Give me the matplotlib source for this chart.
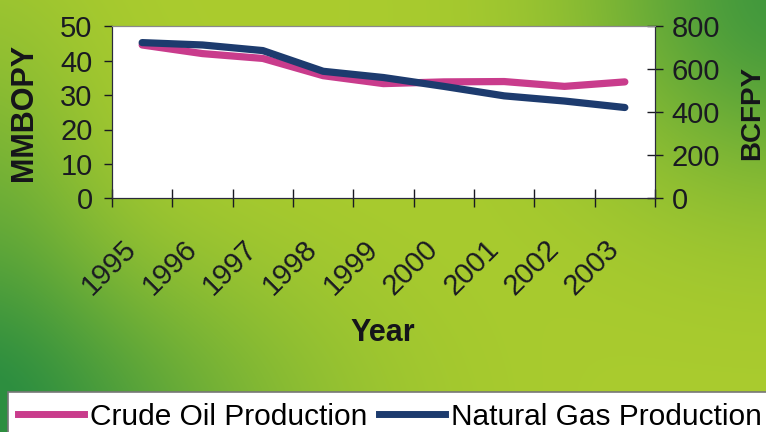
import numpy as np
import matplotlib
matplotlib.use("Agg")
import matplotlib.pyplot as plt
import matplotlib.transforms as mtransforms
from matplotlib.lines import Line2D

plt.rcParams['font.family'] = ['Liberation Sans', 'DejaVu Sans']

years = ["1995", "1996", "1997", "1998", "1999", "2000", "2001", "2002", "2003"]
crude_oil = [44.5, 42.0, 40.6, 35.6, 33.3, 33.8, 33.9, 32.5, 33.8]      # MMBOPY (left)
natural_gas = [723, 712, 686, 590, 561, 520, 476, 452, 422]            # BCFPY (right)
left_ticks = [0, 10, 20, 30, 40, 50]
right_ticks = [0, 200, 400, 600, 800]

W, H = 766, 432
fig = plt.figure(figsize=(W / 100, H / 100), dpi=100)

# gradient background
bg = fig.add_axes([0, 0, 1, 1], zorder=-10)
yy, xx = np.mgrid[0:H, 0:W]
d1 = 0.85 * np.exp(-(((xx - 790) / 200.0) ** 2 + ((yy + 10) / 190.0) ** 2))
d2 = 0.95 * np.exp(-(((xx + 40) / 300.0) ** 2 + ((yy - 430) / 170.0) ** 2))
d3 = 0.35 * np.exp(-(((xx + 20) / 120.0) ** 2 + ((yy - 200) / 200.0) ** 2))
d = np.clip(d1 + d2 + d3, 0, 1)
light = np.array([0.67, 0.80, 0.18])
dark = np.array([0.18, 0.56, 0.25])
img = light[None, None, :] * (1 - d[..., None]) + dark[None, None, :] * d[..., None]
bg.imshow(img, aspect='auto', extent=[0, W, H, 0])
bg.set_axis_off()

ax = fig.add_axes([112 / W, 1 - 198.5 / H, (655 - 112) / W, (198.5 - 26) / H])
ax.set_facecolor('white')
x = np.arange(len(years))
oil_color = '#c93c8c'
gas_color = '#1d3b6e'
ax.plot(x, crude_oil, color=oil_color, lw=5.2, solid_capstyle='round',
        solid_joinstyle='round', zorder=3)
ax.set_xlim(-0.5, len(years) - 0.5)
ax.set_ylim(0, 50)

ax2 = ax.twinx()
ax2.plot(x, natural_gas, color=gas_color, lw=5.2, solid_capstyle='round',
         solid_joinstyle='round', zorder=3)
ax2.set_ylim(0, 800)

tick_color = '#1a1a22'
ax.set_yticks(left_ticks)
ax.tick_params(axis='y', direction='out', length=6, width=1, pad=8,
               labelsize=21, colors=tick_color)
ax2.set_yticks(right_ticks)
ax2.tick_params(axis='y', direction='inout', length=12, width=1, pad=6,
                labelsize=21, colors=tick_color)

ax.set_xticks(np.arange(-0.5, len(years), 1.0))
ax.set_xticklabels([])
ax.tick_params(axis='x', which='major', direction='inout', length=13, width=1,
               colors=tick_color)
ax.set_xticks(x, minor=True)
ax.set_xticklabels(years, minor=True, rotation=45, ha='right', va='top',
                   rotation_mode='anchor', fontsize=21, color=tick_color)
ax.tick_params(axis='x', which='minor', length=0, pad=26)
offset = mtransforms.ScaledTranslation(-20 / 100, 0, fig.dpi_scale_trans)
for lab in ax.get_xticklabels(minor=True):
    lab.set_transform(lab.get_transform() + offset)

for a in (ax, ax2):
    a.spines['top'].set_color('#8a8a8a')
    a.spines['left'].set_color('#2a2a3a')
    a.spines['right'].set_color('#2a2a3a')
    a.spines['bottom'].set_color('#2a2a3a')

fig.text(24 / W, 1 - 112 / H, 'MMBOPY', rotation=90, ha='center', va='center',
         fontsize=22, fontweight='bold', color='#15151a')
fig.text(752 / W, 1 - 113 / H, 'BCFPY', rotation=90, ha='center', va='center',
         fontsize=20, fontweight='bold', color='#15151a')
fig.text(383 / W, 1 - 333 / H, 'Year', ha='center', va='center',
         fontsize=22, fontweight='bold', color='#15151a')

handles = [Line2D([], [], color=oil_color, lw=5),
           Line2D([], [], color=gas_color, lw=5)]
leg = fig.legend(handles, ['Crude Oil Production', 'Natural Gas Production'],
                 loc='lower left', bbox_to_anchor=(8 / W, -9 / H), ncol=2,
                 fontsize=21.5, frameon=True, fancybox=False, framealpha=1,
                 edgecolor='#777777', facecolor='white', handlelength=2.2,
                 handletextpad=0.2, columnspacing=0.4, borderpad=0.35,
                 borderaxespad=0)
leg.get_frame().set_linewidth(1.2)

fig.savefig('out.png', dpi=100)
